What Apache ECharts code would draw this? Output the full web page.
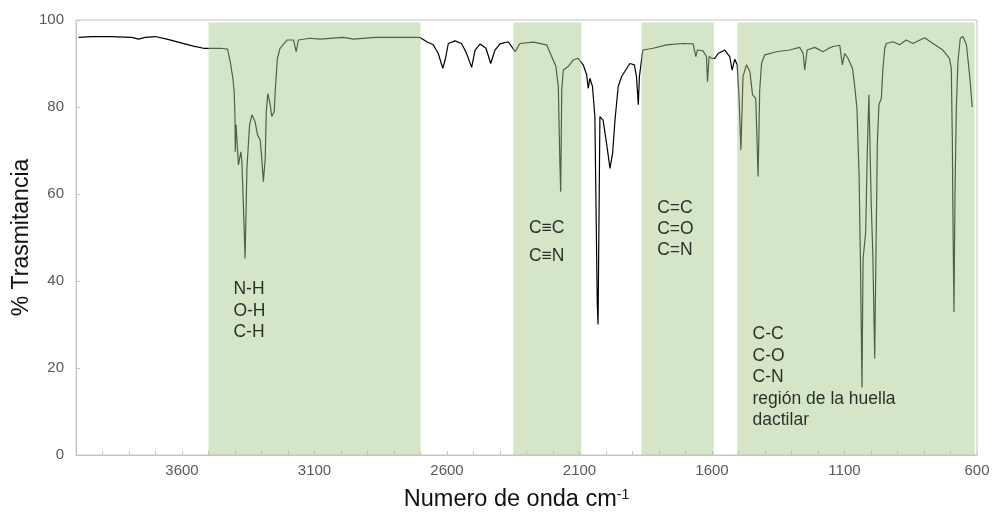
<!DOCTYPE html>
<html>
<head>
<meta charset="utf-8">
<script src="https://cdn.jsdelivr.net/npm/echarts@6/dist/echarts.min.js"></script>
<style>
  html, body { margin: 0; padding: 0; background: #fff; }
  #chart { width: 992px; height: 516px; }
</style>
</head>
<body>
<div id="chart"></div>
<script>
// ---- Data ----
const wavenumbers = [
  3990, 3940, 3871, 3789, 3764, 3739, 3701, 3657, 3607, 3557, 3519, 3455,
  3428, 3418, 3408, 3403, 3400, 3399, 3396, 3387, 3378, 3374, 3368, 3362,
  3355, 3345, 3336, 3324, 3315, 3305, 3299, 3293, 3286, 3282, 3276, 3267,
  3261, 3252, 3248, 3240, 3230, 3204, 3179, 3169, 3161, 3117, 3079, 2991,
  2953, 2870, 2802, 2702, 2676, 2652, 2633, 2616, 2607, 2595, 2570, 2545,
  2526, 2507, 2494, 2475, 2453, 2435, 2419, 2400, 2369, 2356, 2343, 2325,
  2274, 2224, 2205, 2189, 2180, 2174, 2171, 2167, 2161, 2143, 2124, 2105,
  2086, 2073, 2067, 2061, 2051, 2042, 2033, 2030, 2023, 2017, 2011, 1998,
  1985, 1975, 1966, 1954, 1941, 1910, 1893, 1885, 1878, 1874, 1861, 1822,
  1772, 1709, 1671, 1661, 1655, 1634, 1621, 1617, 1611, 1602, 1589, 1577,
  1552, 1533, 1524, 1514, 1505, 1498, 1491, 1483, 1470, 1457, 1447, 1435,
  1426, 1420, 1413, 1401, 1357, 1307, 1269, 1256, 1250, 1241, 1212, 1181,
  1156, 1143, 1118, 1108, 1099, 1087, 1070, 1062, 1053, 1045, 1040, 1034,
  1030, 1020, 1014, 1008, 1003, 999, 993, 986, 980, 976, 970, 961,
  955, 948, 942, 917, 892, 867, 842, 798, 766, 729, 704, 697,
  693, 691, 687, 683, 678, 672, 663, 653, 640, 628, 618
];
const transmittance = [
  96.0, 96.2, 96.2, 96.0, 95.6, 96.0, 96.2, 95.6, 94.8, 94.0, 93.5, 93.5,
  93.3, 90.4, 86.6, 83.5, 77.4, 69.7, 75.9, 66.7, 69.7, 67.4, 56.7, 45.2,
  65.9, 75.9, 78.2, 76.6, 73.6, 72.4, 68.2, 62.8, 68.2, 78.9, 83.1, 80.5,
  77.8, 78.9, 83.9, 91.2, 93.5, 95.4, 95.4, 92.7, 95.4, 95.8, 95.6, 96.0,
  95.6, 96.0, 96.0, 96.0, 95.0, 94.3, 92.3, 88.9, 90.8, 94.6, 95.2, 94.6,
  92.3, 89.1, 93.1, 94.5, 93.5, 90.0, 93.1, 94.5, 95.0, 93.9, 92.7, 94.6,
  94.9, 94.3, 91.6, 89.3, 84.7, 67.1, 60.5, 83.9, 88.5, 89.3, 90.8, 91.2,
  89.7, 87.4, 84.3, 86.6, 84.7, 77.8, 35.0, 30.0, 77.8, 78.2, 77.0, 71.7,
  65.9, 69.4, 77.0, 84.7, 87.0, 90.0, 89.7, 87.0, 80.5, 87.0, 93.1, 93.5,
  94.3, 94.6, 94.5, 91.6, 93.1, 92.9, 91.6, 85.8, 91.6, 91.2, 91.2, 92.3,
  93.1, 91.6, 88.5, 91.0, 89.7, 82.4, 70.1, 87.0, 89.7, 88.1, 82.8, 82.0,
  64.0, 83.9, 90.0, 92.0, 92.7, 93.1, 93.7, 92.3, 88.5, 93.1, 93.7, 92.7,
  93.6, 93.9, 94.2, 89.7, 92.3, 91.2, 88.9, 85.1, 79.7, 64.4, 45.2, 15.5,
  45.0, 51.3, 69.7, 82.8, 82.4, 57.5, 46.0, 22.2, 52.9, 72.0, 80.5, 82.0,
  88.9, 93.5, 94.6, 95.0, 94.3, 95.4, 94.6, 95.9, 94.6, 93.1, 91.2, 88.9,
  72.0, 55.9, 32.9, 60.5, 79.7, 90.4, 95.8, 96.2, 94.3, 87.4, 80.0
];
// Shaded band limits [from, to] in cm-1
const bandStarts = [3500, 2350, 1866, 1505];
const bandEnds   = [2700, 2093, 1593, 609];
const bandTop = 99.4;
// Tick labels shown on the x axis
const xTickLabels = [3600, 3100, 2600, 2100, 1600, 1100, 600];
// Annotations
const annotationTexts = [
  'N-H\nO-H\nC-H',
  'C\u2261C\nC\u2261N',
  'C=C\nC=O\nC=N',
  'C-C\nC-O\nC-N\nregión de la huella\ndactilar'
];
const annotationWavenumbers = [3406, 2291, 1807, 1447];
const annotationLevels = [40.5, 55.3, 59.1, 30.2];

// ---- Build chart ----
const FONT = '"Liberation Sans", Arial, sans-serif';
const spectrum = wavenumbers.map((w, i) => [w, transmittance[i]]);
const bandData = bandStarts.map((s, i) => [s, bandEnds[i], bandTop]);
const lineHeights = [21.5, 28, 21, 21.5];
const annotations = annotationTexts.map((t, i) => ({
  value: [annotationWavenumbers[i], annotationLevels[i]],
  name: t,
  label: { lineHeight: lineHeights[i] }
}));

const chart = echarts.init(document.getElementById('chart'), null, { renderer: 'canvas' });
chart.setOption({
  animation: false,
  textStyle: { fontFamily: FONT },
  grid: {
    left: 76, right: 15, top: 20, bottom: 61,
    containLabel: false, outerBoundsMode: 'none',
    show: true, borderColor: '#c6c6c6', borderWidth: 1
  },
  xAxis: {
    type: 'value',
    inverse: true,
    min: 600,
    max: 4000,
    interval: 100,
    name: 'Numero de onda cm{sup|-1}',
    nameLocation: 'middle',
    nameGap: 33,
    nameTextStyle: {
      fontFamily: FONT, fontSize: 23.5, color: '#111',
      padding: [0, 20, 0, 0],
      rich: { sup: { fontSize: 14, verticalAlign: 'top', color: '#111', fontFamily: FONT } }
    },
    axisLine: { show: true, lineStyle: { color: '#c6c6c6', width: 1 } },
    axisTick: { show: true, inside: true, length: 4, lineStyle: { color: '#c6c6c6' } },
    splitLine: { show: false },
    axisLabel: {
      fontFamily: FONT, fontSize: 15, color: '#595959', margin: 8,
      showMinLabel: true, showMaxLabel: true,
      formatter: v => (xTickLabels.indexOf(v) >= 0 ? String(v) : '')
    }
  },
  yAxis: {
    type: 'value',
    min: 0,
    max: 100,
    interval: 20,
    name: '% Trasmitancia',
    nameLocation: 'middle',
    nameGap: 43,
    nameMoveOverlap: false,
    nameTextStyle: { fontFamily: FONT, fontSize: 23, color: '#111' },
    axisLine: { show: true, lineStyle: { color: '#c6c6c6', width: 1 } },
    axisTick: { show: true, inside: true, length: 4, lineStyle: { color: '#c6c6c6' } },
    splitLine: { show: false },
    axisLabel: { fontFamily: FONT, fontSize: 15, color: '#595959', margin: 12 }
  },
  series: [
    {
      type: 'line',
      z: 2,
      data: spectrum,
      symbol: 'none',
      lineStyle: { color: '#000', width: 1.2 },
      silent: true
    },
    {
      type: 'custom',
      z: 3,
      silent: true,
      data: bandData,
      encode: { x: [0, 1], y: 2 },
      renderItem: (params, api) => {
        const p1 = api.coord([api.value(0), api.value(2)]);
        const p2 = api.coord([api.value(1), 0]);
        return {
          type: 'rect',
          shape: { x: p1[0], y: p1[1], width: p2[0] - p1[0], height: p2[1] - p1[1] },
          style: { fill: 'rgba(167,202,140,0.48)' }
        };
      }
    },
    {
      type: 'scatter',
      z: 5,
      symbolSize: 0,
      silent: true,
      data: annotations,
      label: {
        show: true,
        position: [0, 0],
        align: 'left',
        verticalAlign: 'top',
        fontFamily: FONT,
        fontSize: 17.5,
        color: '#000',
        formatter: p => p.name
      }
    }
  ]
});
</script>
</body>
</html>
